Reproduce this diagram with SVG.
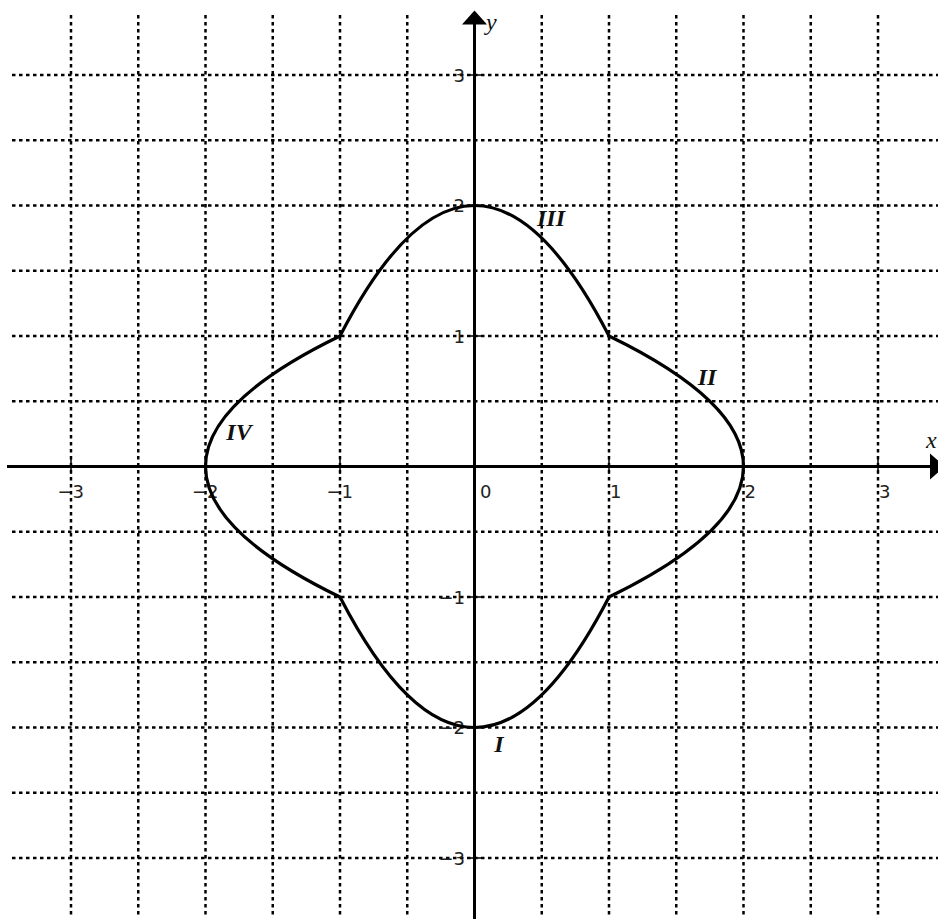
<svg xmlns="http://www.w3.org/2000/svg" width="938" height="919" viewBox="0 0 938 919">
<defs>
<style>
.grid{stroke:#000;stroke-width:2.5;stroke-dasharray:3.5 3.5;fill:none}
.axis{stroke:#000;stroke-width:3;fill:none}
.tick{stroke:#000;stroke-width:1.5}
.curve{stroke:#000;stroke-width:3.2;fill:none;stroke-linejoin:round}
.num{font-family:"DejaVu Sans","Liberation Sans",sans-serif;font-size:18px;fill:#222}
.ax{font-family:"Liberation Serif",serif;font-style:italic;font-size:24px;fill:#111}
.rn{font-family:"Liberation Serif",serif;font-style:italic;font-weight:bold;font-size:24px;fill:#111;text-anchor:middle}
</style>
</defs>
<rect width="938" height="919" fill="#fff"/>
<g id="grid">
<path class="grid" d="M71,15V917M138.25,15V917M205.5,15V917M272.75,15V917M340,15V917M407.25,15V917M541.75,15V917M609,15V917M676.25,15V917M743.5,15V917M810.75,15V917M878,15V917"/>
<path class="grid" d="M12,75H938M12,140.25H938M12,205.5H938M12,270.75H938M12,336H938M12,401.25H938M12,531.75H938M12,597H938M12,662.25H938M12,727.5H938M12,792.75H938M12,858H938"/>
</g>
<g id="axes">
<line class="axis" x1="7" y1="466.5" x2="932" y2="466.5"/>
<polygon points="930,453.5 945,466.5 930,479.5" fill="#000"/>
<line class="axis" x1="474.5" y1="919" x2="474.5" y2="23"/>
<polygon points="462,24.5 474.5,10.5 487,24.5" fill="#000"/>
<path class="tick" d="M71,459V474M205.5,459V474M340,459V474M609,459V474M743.5,459V474M878,459V474M467,75H482M467,205.5H482M467,336H482M467,597H482M467,727.5H482M467,858H482"/>
<text class="ax" x="926" y="448">x</text>
<text class="ax" x="486" y="30">y</text>
</g>
<g id="ticklabels" class="num">
<text x="84" y="497.5" text-anchor="end">−3</text>
<text x="218.5" y="497.5" text-anchor="end">−2</text>
<text x="353" y="497.5" text-anchor="end">−1</text>
<text x="480" y="497.5">0</text>
<text x="610" y="497.5">1</text>
<text x="744.5" y="497.5">2</text>
<text x="879" y="497.5">3</text>
<text x="465" y="81.5" text-anchor="end">3</text>
<text x="465" y="212" text-anchor="end">2</text>
<text x="465" y="342.5" text-anchor="end">1</text>
<text x="465" y="603.5" text-anchor="end">−1</text>
<text x="465" y="734" text-anchor="end">−2</text>
<text x="465" y="864.5" text-anchor="end">−3</text>
</g>
<g id="curve">
<path class="curve" d="M340,336 Q474.5,75 609,336 Q878,466.5 609,597 Q474.5,858 340,597 Q71,466.5 340,336 Z"/>
</g>
<g id="labels">
<text class="rn" x="551" y="226">III</text>
<text class="rn" x="707" y="385">II</text>
<text class="rn" x="239" y="440">IV</text>
<text class="rn" x="499" y="752">I</text>
</g>
</svg>
